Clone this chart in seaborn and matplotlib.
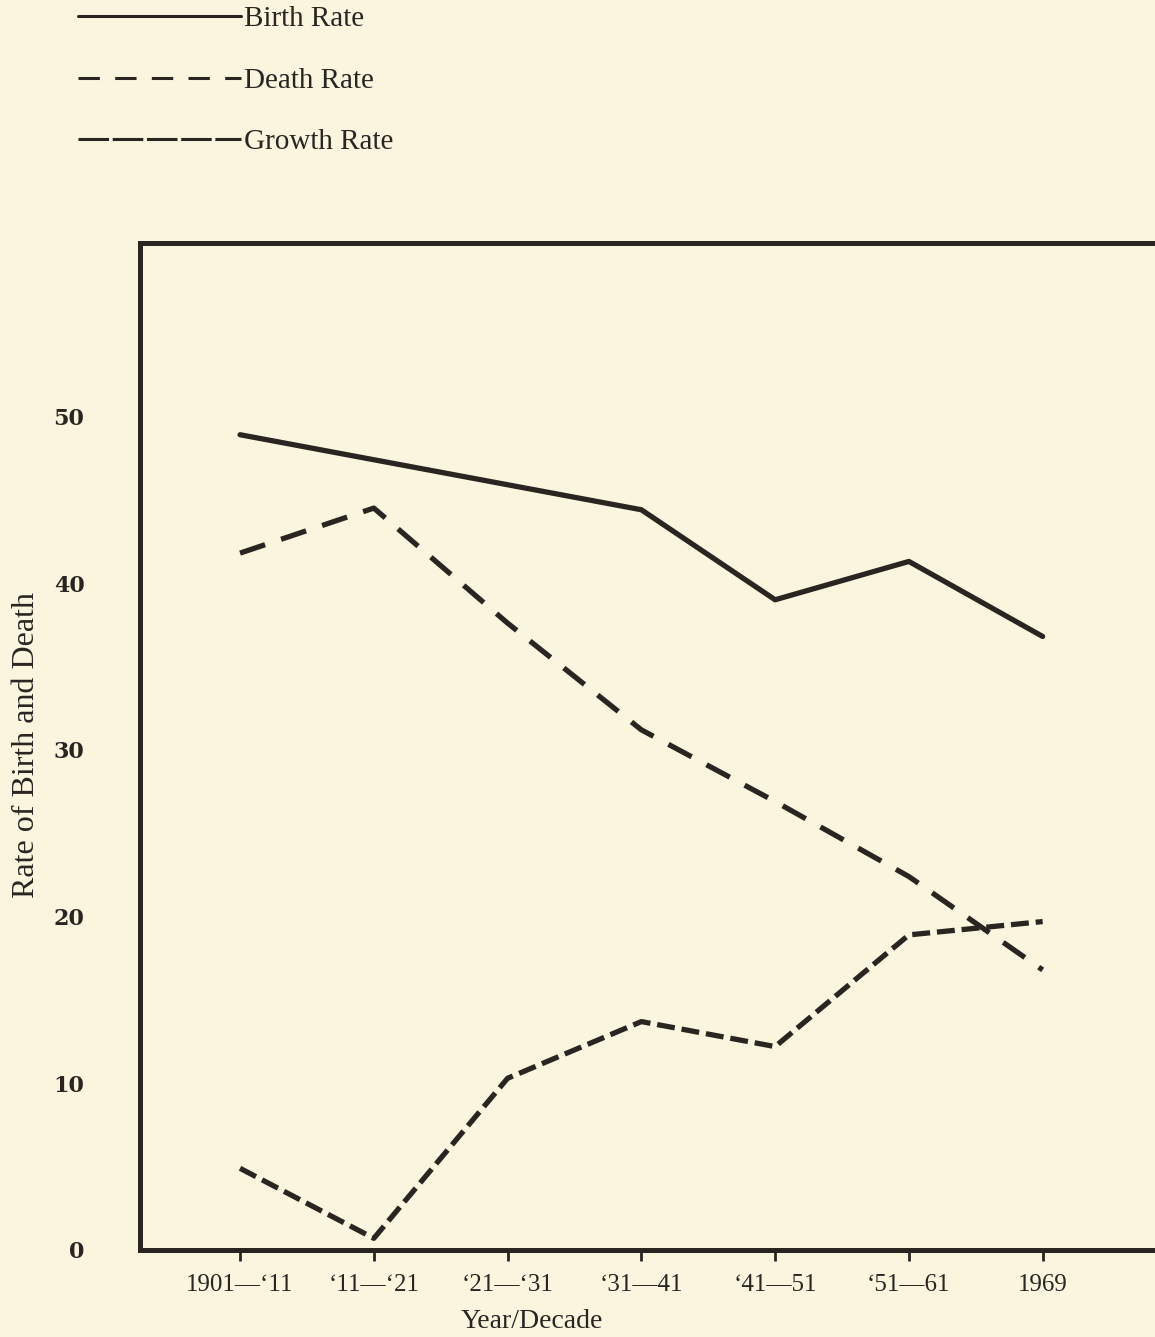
import numpy as np
import pandas as pd
import matplotlib
matplotlib.use("Agg")
import matplotlib.pyplot as plt
from matplotlib.lines import Line2D
import seaborn as sns

# ---- data ----
periods = ["1901\u2014\u201811", "\u201811\u2014\u201821", "\u201821\u2014\u201831",
           "\u201831\u201441", "\u201841\u201451", "\u201851\u201461", "1969"]
birth_rate = [48.9, 47.4, 45.9, 44.4, 39.0, 41.3, 36.8]
death_rate = [41.8, 44.5, 37.6, 31.2, 26.9, 22.4, 16.8]
growth_rate = [4.9, 0.7, 10.3, 13.7, 12.2, 18.9, 19.7]
series_names = ["Birth Rate", "Death Rate", "Growth Rate"]
y_ticks = [0, 10, 20, 30, 40, 50]

df = pd.DataFrame({
    "pos": list(range(len(periods))) * 3,
    "rate": birth_rate + death_rate + growth_rate,
    "series": [series_names[0]] * 7 + [series_names[1]] * 7 + [series_names[2]] * 7,
})

bg = "#faf5df"
ink = "#2a2521"

sns.set_theme(style="white")
plt.rcParams["font.family"] = ["Liberation Serif", "DejaVu Serif"]

fig = plt.figure(figsize=(11.55, 13.37), dpi=100, facecolor=bg)
ax = fig.add_axes([140 / 1155, 87 / 1337, 1 - 140 / 1155, (1250 - 243) / 1337])
ax.set_facecolor(bg)

lw = 3.8
sns.lineplot(data=df, x="pos", y="rate", hue="series", style="series",
             palette={n: ink for n in series_names},
             dashes={"Birth Rate": "", "Death Rate": (5.0, 3.2), "Growth Rate": (3.4, 1.3)},
             linewidth=lw, legend=False, ax=ax)

ax.set_xlim(-0.748, 6.84)
ax.set_ylim(0, 60.4)

ax.set_xticks(range(len(periods)))
ax.set_xticklabels(periods, fontsize=18, color=ink)
ax.set_yticks(y_ticks)
ax.set_yticklabels([str(v) for v in y_ticks], fontsize=16, fontweight="bold",
                   family="DejaVu Serif", color=ink)
ax.tick_params(axis="x", direction="out", length=8, width=2, colors=ink,
               labelcolor=ink, pad=9, bottom=True)
ax.tick_params(axis="y", length=0, pad=40)

for s in ["left", "top", "bottom"]:
    ax.spines[s].set_visible(True)
    ax.spines[s].set_linewidth(3.6)
    ax.spines[s].set_color(ink)
ax.spines["right"].set_visible(False)

ax.set_xlabel("Year/Decade", fontsize=20, color=ink)
ax.xaxis.set_label_coords((532 - 140) / 1015, -(1322 - 1250) / 1007)
ax.xaxis.label.set_va("center")
ax.set_ylabel("Rate of Birth and Death", fontsize=23, color=ink)
ax.yaxis.set_label_coords((27 - 140) / 1015, (1250 - 745) / 1007)
ax.yaxis.label.set_va("center")

handles = [
    Line2D([], [], color=ink, lw=2.2),
    Line2D([], [], color=ink, lw=2.2, dashes=(7, 5)),
    Line2D([], [], color=ink, lw=2.2, dashes=(10, 1.2)),
]
fig.legend(handles, series_names, loc="upper left",
           bbox_to_anchor=(78 / 1155, 1 - 6 / 1337), frameon=False,
           fontsize=21, handlelength=5.6, handletextpad=0.1,
           labelspacing=1.2, borderpad=0, borderaxespad=0,
           labelcolor=ink)

fig.savefig("out.png", dpi=100, facecolor=bg)
